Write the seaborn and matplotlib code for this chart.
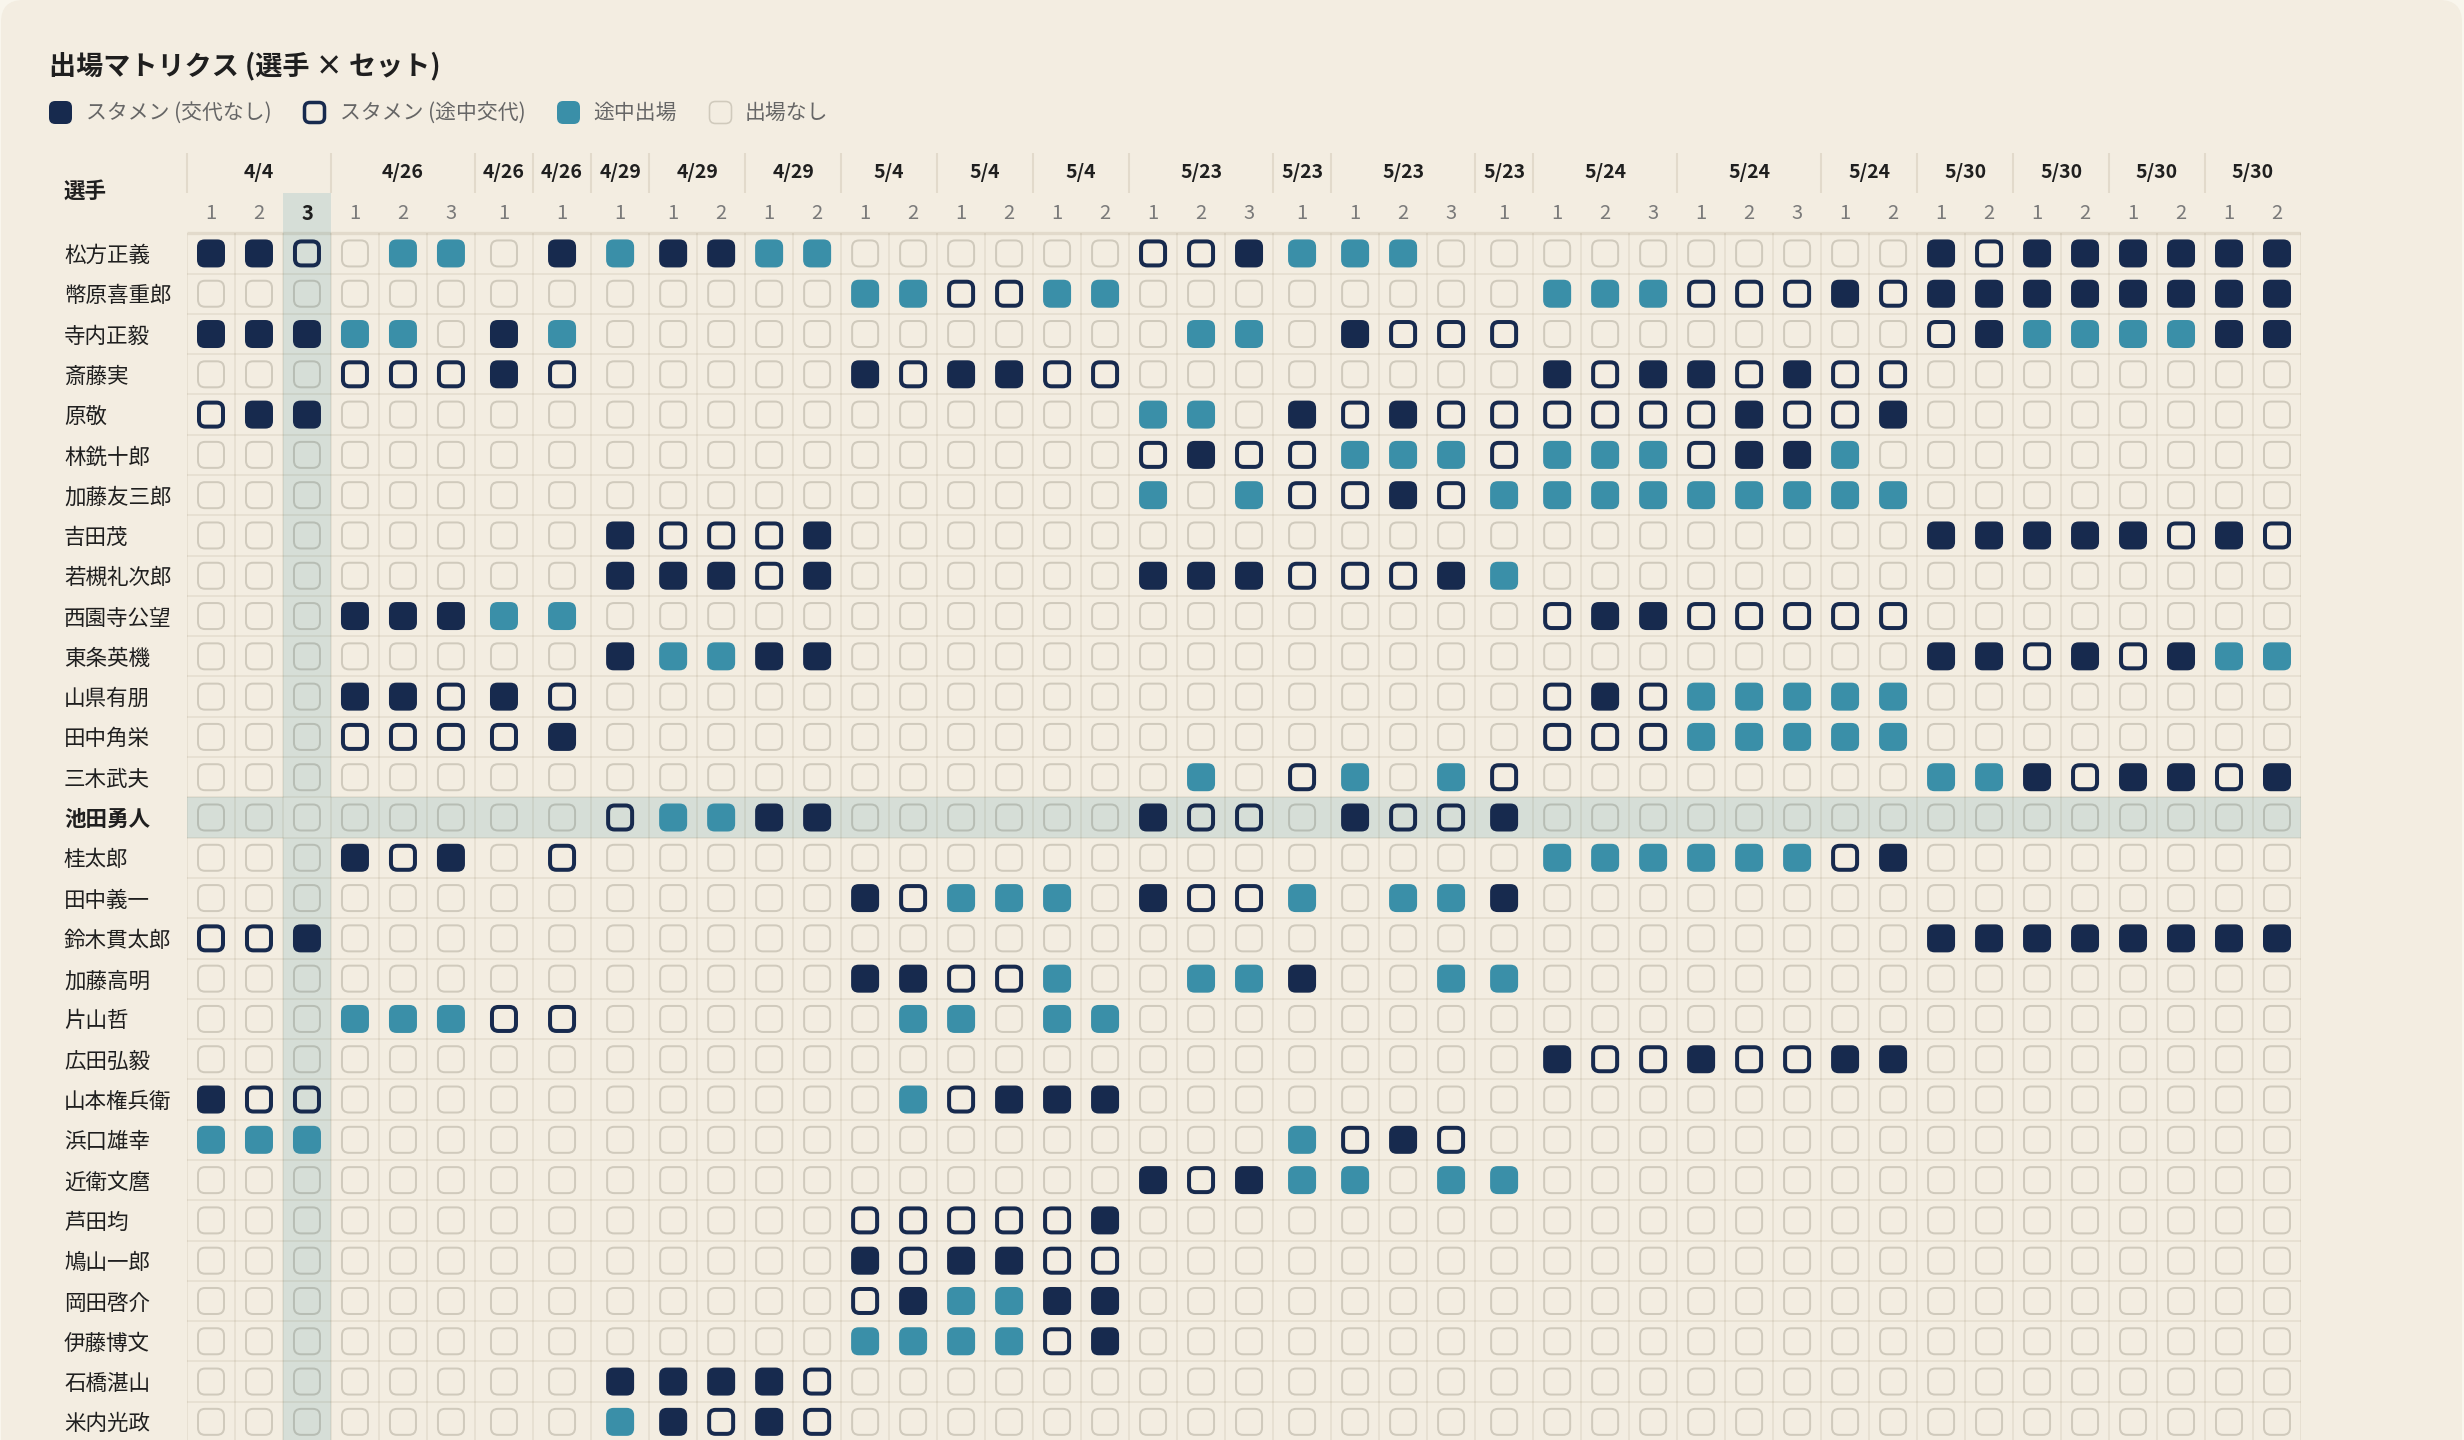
import numpy as np
import pandas as pd
import matplotlib
matplotlib.use('Agg')
import matplotlib.pyplot as plt
from matplotlib.patches import BoxStyle, FancyBboxPatch
from matplotlib.lines import Line2D
from matplotlib.transforms import IdentityTransform
import seaborn as sns

# 試合日とその日のセット数
dates = ['4/4', '4/26', '4/26', '4/26', '4/29', '4/29', '4/29', '5/4', '5/4', '5/4',
         '5/23', '5/23', '5/23', '5/23', '5/24', '5/24', '5/24', '5/30', '5/30', '5/30', '5/30']
set_counts = [3, 3, 1, 1, 1, 2, 2, 2, 2, 2, 3, 1, 3, 1, 3, 3, 2, 2, 2, 2, 2]

players = ['松方正義', '幣原喜重郎', '寺内正毅', '斎藤実', '原敬', '林銑十郎', '加藤友三郎',
           '吉田茂', '若槻礼次郎', '西園寺公望', '東条英機', '山県有朋', '田中角栄', '三木武夫',
           '池田勇人', '桂太郎', '田中義一', '鈴木貫太郎', '加藤高明', '片山哲', '広田弘毅',
           '山本権兵衛', '浜口雄幸', '近衛文麿', '芦田均', '鳩山一郎', '岡田啓介', '伊藤博文',
           '石橋湛山', '米内光政']

# F = スタメン(交代なし), O = スタメン(途中交代), T = 途中出場, . = 出場なし
# 空白は日付グループの区切り
appearances = [
    'FFO .TT . F T FF TT .. .. .. OOF T TT. . ... ... .. FO FF FF FF',
    '... ... . . . .. .. TT OO TT ... . ... . TTT OOO FO FF FF FF FF',
    'FFF TT. F T . .. .. .. .. .. .TT . FOO O ... ... .. OF TT TT FF',
    '... OOO F O . .. .. FO FF OO ... . ... . FOF FOF OO .. .. .. ..',
    'OFF ... . . . .. .. .. .. .. TT. F OFO O OOO OFO OF .. .. .. ..',
    '... ... . . . .. .. .. .. .. OFO O TTT O TTT OFF T. .. .. .. ..',
    '... ... . . . .. .. .. .. .. T.T O OFO T TTT TTT TT .. .. .. ..',
    '... ... . . F OO OF .. .. .. ... . ... . ... ... .. FF FF FO FO',
    '... ... . . F FF OF .. .. .. FFF O OOF T ... ... .. .. .. .. ..',
    '... FFF T T . .. .. .. .. .. ... . ... . OFF OOO OO .. .. .. ..',
    '... ... . . F TT FF .. .. .. ... . ... . ... ... .. FF OF OF TT',
    '... FFO F O . .. .. .. .. .. ... . ... . OFO TTT TT .. .. .. ..',
    '... OOO O F . .. .. .. .. .. ... . ... . OOO TTT TT .. .. .. ..',
    '... ... . . . .. .. .. .. .. .T. O T.T O ... ... .. TT FO FF OF',
    '... ... . . O TT FF .. .. .. FOO . FOO F ... ... .. .. .. .. ..',
    '... FOF . O . .. .. .. .. .. ... . ... . TTT TTT OF .. .. .. ..',
    '... ... . . . .. .. FO TT T. FOO T .TT F ... ... .. .. .. .. ..',
    'OOF ... . . . .. .. .. .. .. ... . ... . ... ... .. FF FF FF FF',
    '... ... . . . .. .. FF OO T. .TT F ..T T ... ... .. .. .. .. ..',
    '... TTT O O . .. .. .T T. TT ... . ... . ... ... .. .. .. .. ..',
    '... ... . . . .. .. .. .. .. ... . ... . FOO FOO FF .. .. .. ..',
    'FOO ... . . . .. .. .T OF FF ... . ... . ... ... .. .. .. .. ..',
    'TTT ... . . . .. .. .. .. .. ... T OFO . ... ... .. .. .. .. ..',
    '... ... . . . .. .. .. .. .. FOF T T.T T ... ... .. .. .. .. ..',
    '... ... . . . .. .. OO OO OF ... . ... . ... ... .. .. .. .. ..',
    '... ... . . . .. .. FO FF OO ... . ... . ... ... .. .. .. .. ..',
    '... ... . . . .. .. OF TT FF ... . ... . ... ... .. .. .. .. ..',
    '... ... . . . .. .. TT TT OF ... . ... . ... ... .. .. .. .. ..',
    '... ... . . F FF FO .. .. .. ... . ... . ... ... .. .. .. .. ..',
    '... ... . . T FO FO .. .. .. ... . ... . ... ... .. .. .. .. ..',
]

state_codes = ['F', 'O', 'T', '.']
legend_labels = ['スタメン (交代なし)', 'スタメン (途中交代)', '途中出場', '出場なし']
title = '出場マトリクス (選手 × セット)'
focus_player = '池田勇人'
focus_col = 2   # 4/4 の第3セット

# 色
OUTER = '#F9F6ED'
CARD = '#F3EDE1'
NAVY = '#172A4E'
TEAL = '#3A8FA8'
EMPTY = (0.10, 0.08, 0.0, 0.16)
GRID = (0.30, 0.22, 0.05, 0.07)
HEADLINE = (0.30, 0.22, 0.05, 0.10)
HL = '#D6DED7'
TEXT = '#1F1F1F'
MUTED = '#7A7A7A'

sns.set_theme(style='white')
plt.rcParams['font.family'] = ['Noto Sans CJK JP', 'DejaVu Sans']

# 列の位置 (1セットだけの日は列が少し広い)
col_x, col_w, col_set, grp_left, grp_w = [], [], [], [], []
x = 0.0
for d, n in zip(dates, set_counts):
    w = 1.0 if n > 1 else 1.21
    grp_left.append(x)
    grp_w.append(w * n)
    for s in range(1, n + 1):
        col_x.append(x + w / 2)
        col_w.append(w)
        col_set.append(s)
        x += w
total_w = x
edges = np.concatenate([[0], np.cumsum(col_w)])

recs = []
for i, (p, a) in enumerate(zip(players, appearances)):
    codes = a.replace(' ', '')
    assert len(codes) == len(col_x), (p, len(codes))
    for j, c in enumerate(codes):
        recs.append({'player': p, 'row': i, 'x': col_x[j], 'state': c})
df = pd.DataFrame(recs)
n_rows = len(players)
focus_row = players.index(focus_player)

W, H = 2464, 1440
fig = plt.figure(figsize=(W / 100, H / 100), dpi=100, facecolor=OUTER)
fig.add_artist(FancyBboxPatch((1, -40), W - 3, H + 40,
                              boxstyle='round,pad=0,rounding_size=22',
                              transform=IdentityTransform(), fc=CARD, ec='none', zorder=-10))

ax = fig.add_axes([187 / W, -2 / H, 2114 / W, 1249 / H])
ax.set_facecolor('none')


def px2pt(v):
    return v * 72 / 100


rr = BoxStyle('Round', pad=0, rounding_size=0.27)(-0.5, -0.5, 1, 1, 1.0)

styles = {
    'F': dict(color=NAVY, edgecolor='none', linewidth=0, s=px2pt(28) ** 2),
    'O': dict(color='none', edgecolor=NAVY, linewidth=px2pt(4), s=px2pt(24) ** 2),
    'T': dict(color=TEAL, edgecolor='none', linewidth=0, s=px2pt(28) ** 2),
    '.': dict(color='none', edgecolor=EMPTY, linewidth=px2pt(2), s=px2pt(26) ** 2),
}
for code in state_codes:
    sub = df[df['state'] == code]
    sns.scatterplot(data=sub, x='x', y='row', marker=rr, ax=ax, legend=False,
                    zorder=3, **styles[code])

# ハイライト (選択中の列と行)
ax.axvspan(edges[focus_col], edges[focus_col + 1], color=HL, lw=0, zorder=0)
ax.axhspan(focus_row - 0.5, focus_row + 0.5, color=HL, lw=0, zorder=0)

# セルの罫線
ax.vlines(edges, -0.5, n_rows - 0.5, color=GRID, lw=1.4, zorder=1)
ax.hlines(np.arange(0.5, n_rows), 0, total_w, color=GRID, lw=1.4, zorder=1)
ax.hlines(-0.5, 0, total_w, color=HEADLINE, lw=2.4, zorder=1)
ax.vlines(grp_left, -2.5, -1.5, color=HEADLINE, lw=1.5, clip_on=False)

ax.set_xlim(0, total_w)
ax.set_ylim(n_rows - 0.5, -1.5)
ax.set(xlabel='', ylabel='')
ax.set_xticks([])
ax.set_yticks(range(n_rows))
ax.set_yticklabels(players, ha='left', fontsize=15.5, color=TEXT)
ax.tick_params(axis='y', length=0, pad=px2pt(123))
ax.get_yticklabels()[focus_row].set_fontweight('bold')
for s in ax.spines.values():
    s.set_visible(False)

# ヘッダー: 日付とセット番号
for g, d in enumerate(dates):
    ax.text(grp_left[g] + grp_w[g] / 2, -2.0, d, ha='center', va='center',
            fontsize=14, fontweight='bold', color=TEXT)
for j, s in enumerate(col_set):
    ax.text(col_x[j], -1.0, str(s), ha='center', va='center', fontsize=14.5,
            color=TEXT if j == focus_col else MUTED,
            fontweight='bold' if j == focus_col else 'normal')

fig.text(64 / W, 1 - 191 / H, '選手', ha='left', va='center', fontsize=15.5,
         fontweight='bold', color=TEXT)
fig.text(49 / W, 1 - 66 / H, title, ha='left', va='center', fontsize=19.5,
         fontweight='bold', color=TEXT)

handles = [
    Line2D([], [], ls='none', marker=rr, markersize=px2pt(23), mfc=NAVY, mec=NAVY, mew=0),
    Line2D([], [], ls='none', marker=rr, markersize=px2pt(20), mfc='none', mec=NAVY, mew=px2pt(3.5)),
    Line2D([], [], ls='none', marker=rr, markersize=px2pt(23), mfc=TEAL, mec=TEAL, mew=0),
    Line2D([], [], ls='none', marker=rr, markersize=px2pt(22), mfc='none', mec=EMPTY, mew=px2pt(1.6)),
]
fig.legend(handles, legend_labels, loc='center left', bbox_to_anchor=(49 / W, 1 - 113 / H),
           ncol=4, frameon=False, fontsize=15, labelcolor='#666666',
           handlelength=1.1, handletextpad=0.67, columnspacing=1.5,
           borderpad=0, borderaxespad=0)

fig.savefig('out.png', dpi=100, facecolor=OUTER)
